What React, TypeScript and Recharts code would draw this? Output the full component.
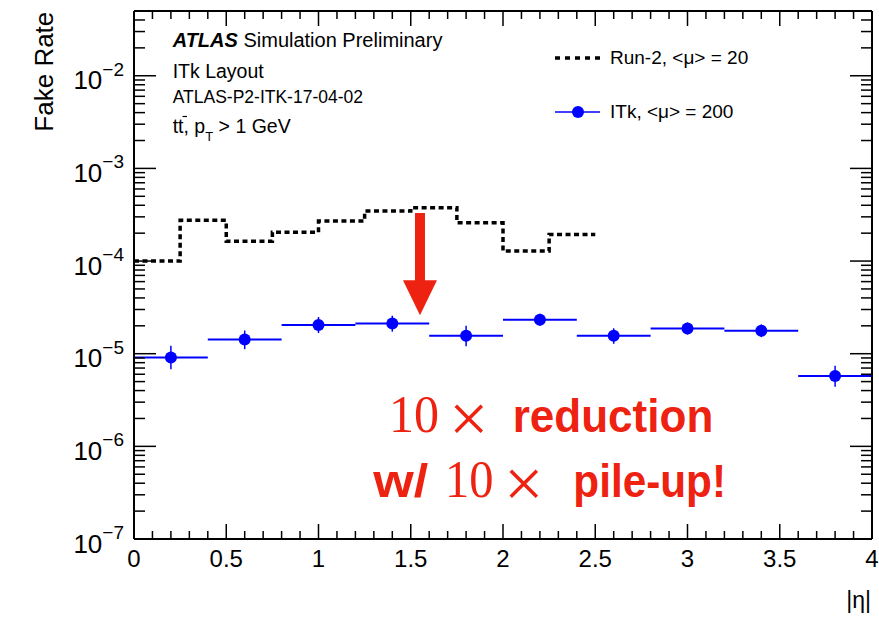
import React from 'react'
import { ComposedChart, Line, Scatter, ErrorBar, XAxis, YAxis, ReferenceLine, Legend } from 'recharts'

// Run-2, <mu> = 20 : step histogram, value per bin low edge (last entry closes the last bin)
const run2Edges = [0, 0.25, 0.5, 0.75, 1.0, 1.25, 1.5, 1.75, 2.0, 2.25, 2.5]
const run2Rate = [1.0e-4, 2.75e-4, 1.64e-4, 2.05e-4, 2.7e-4, 3.46e-4, 3.76e-4, 2.59e-4, 1.28e-4, 1.94e-4, 1.94e-4]

// ITk, <mu> = 200 : points with bin width 0.4
const itkEta = [0.2, 0.6, 1.0, 1.4, 1.8, 2.2, 2.6, 3.0, 3.4, 3.8]
const itkRate = [9.1e-6, 1.42e-5, 2.04e-5, 2.12e-5, 1.56e-5, 2.33e-5, 1.56e-5, 1.87e-5, 1.77e-5, 5.74e-6]
const itkUp = [1.22e-5, 1.78e-5, 2.49e-5, 2.57e-5, 2.0e-5, 2.7e-5, 1.88e-5, 2.17e-5, 2.07e-5, 7.4e-6]
const itkDown = [6.8e-6, 1.12e-5, 1.67e-5, 1.73e-5, 1.2e-5, 2.0e-5, 1.28e-5, 1.61e-5, 1.51e-5, 4.4e-6]
const itkHalfBin = 0.2

// axes
const xMajorLabels = ['0', '0.5', '1', '1.5', '2', '2.5', '3', '3.5', '4']
const xTicks = Array.from({ length: 41 }, (_, i) => i / 10)
const yExponents = [-7, -6, -5, -4, -3, -2]
const yMinorSteps = [2, 3, 4, 5, 6, 7, 8, 9]
const yTop = 0.05
const yTicks = yExponents.flatMap((e) => [Math.pow(10, e), ...yMinorSteps.map((m) => m * Math.pow(10, e))]).filter((v) => v <= yTop * 1.0001)

// arrow: eta position, from / to
const arrowEta = 1.55
const arrowFrom = 3.3e-4
const arrowTo = 2.6e-5

const run2Data = run2Edges.map((x, i) => ({ x, y: run2Rate[i] }))
const itkData = itkEta.map((x, i) => ({
  x,
  y: itkRate[i],
  ex: itkHalfBin,
  ey: [itkRate[i] - itkDown[i], itkUp[i] - itkRate[i]],
}))

const SANS = '"Liberation Sans", Arial, Helvetica, sans-serif'
const SERIF = '"Liberation Serif", "Times New Roman", serif'
const RED = '#ee2211'
const BLUE = '#0000ff'

const isDecade = (v: number) => Math.abs(Math.log10(v) - Math.round(Math.log10(v))) < 1e-6
const xMajorIndex = (v: number) => (Math.abs(v * 2 - Math.round(v * 2)) < 1e-6 ? Math.round(v * 2) : -1)

const BottomTick = (props: any) => {
  const { x, y, payload } = props
  const i = xMajorIndex(payload.value)
  return (
    <g>
      <line x1={x} y1={y} x2={x} y2={y - (i >= 0 ? 15 : 8)} stroke="#000" strokeWidth={1.5} />
      {i >= 0 && (
        <text x={x} y={y + 28} textAnchor="middle" fontSize={24} fontFamily={SANS} fill="#000">
          {xMajorLabels[i]}
        </text>
      )}
    </g>
  )
}

const TopTick = (props: any) => {
  const { x, y, payload } = props
  const major = xMajorIndex(payload.value) >= 0
  return <line x1={x} y1={y} x2={x} y2={y + (major ? 15 : 8)} stroke="#000" strokeWidth={1.5} />
}

const LeftTick = (props: any) => {
  const { x, y, payload } = props
  const major = isDecade(payload.value)
  const exp = Math.round(Math.log10(payload.value))
  return (
    <g>
      <line x1={x} y1={y} x2={x + (major ? 22 : 11)} y2={y} stroke="#000" strokeWidth={1.5} />
      {major && (
        <text x={x - 10} y={y + 13.5} textAnchor="end" fontSize={26} fontFamily={SANS} fill="#000">
          10
          <tspan dy={-13.5} fontSize={19}>
            {'\u2212' + Math.abs(exp)}
          </tspan>
        </text>
      )}
    </g>
  )
}

const RightTick = (props: any) => {
  const { x, y, payload } = props
  const major = isDecade(payload.value)
  return <line x1={x} y1={y} x2={x - (major ? 22 : 11)} y2={y} stroke="#000" strokeWidth={1.5} />
}

const Dot = (props: any) => <circle cx={props.cx} cy={props.cy} r={6} fill={BLUE} />

const Arrow = (props: any) => {
  const { x1, y1, y2 } = props
  const head = 35
  const hw = 17
  const sw = 5
  const yb = y2 - head
  const pts = [
    [x1 - sw, y1], [x1 + sw, y1], [x1 + sw, yb], [x1 + hw, yb],
    [x1, y2], [x1 - hw, yb], [x1 - sw, yb],
  ].map((p) => p.join(',')).join(' ')
  return <polygon points={pts} fill={RED} />
}

const LegendBox = () => (
  <svg width={230} height={95} style={{ display: 'block' }}>
    <line x1={15} y1={23} x2={60} y2={23} stroke="#000" strokeWidth={3.5} strokeDasharray="5 5" />
    <text x={70} y={29} fontSize={19} fontFamily={SANS} fill="#000">Run-2, &lt;μ&gt; = 20</text>
    <line x1={15} y1={77} x2={60} y2={77} stroke={BLUE} strokeWidth={1.5} />
    <circle cx={38} cy={77} r={6} fill={BLUE} />
    <text x={70} y={82.5} fontSize={19} fontFamily={SANS} fill="#000">ITk, &lt;μ&gt; = 200</text>
  </svg>
)

export default function App() {
  return (
    <div style={{ position: 'absolute', left: 0, top: 0, width: 879, height: 617, background: '#fff', fontFamily: SANS }}>
      <ComposedChart width={879} height={617} margin={{ top: 0, right: 0, bottom: 0, left: 0 }}>
        <XAxis
          dataKey="x" type="number" domain={[0, 4]} ticks={xTicks} interval={0} allowDataOverflow
          height={78} tickSize={0} tickMargin={0} tickLine={false}
          axisLine={{ stroke: '#000', strokeWidth: 2 }} tick={<BottomTick />}
        />
        <XAxis
          xAxisId="top" orientation="top" dataKey="x" type="number" domain={[0, 4]} ticks={xTicks} interval={0}
          allowDataOverflow height={11} tickSize={0} tickMargin={0} tickLine={false}
          axisLine={{ stroke: '#000', strokeWidth: 2 }} tick={<TopTick />}
        />
        <YAxis
          dataKey="y" type="number" scale="log" domain={[1e-7, yTop]} ticks={yTicks} interval={0} allowDataOverflow
          width={134} tickSize={0} tickMargin={0} tickLine={false}
          axisLine={{ stroke: '#000', strokeWidth: 2 }} tick={<LeftTick />}
        />
        <YAxis
          yAxisId="right" orientation="right" dataKey="y" type="number" scale="log" domain={[1e-7, yTop]}
          ticks={yTicks} interval={0} allowDataOverflow width={7} tickSize={0} tickMargin={0} tickLine={false}
          axisLine={{ stroke: '#000', strokeWidth: 2 }} tick={<RightTick />}
        />
        <Legend
          layout="horizontal" verticalAlign="middle" align="center"
          wrapperStyle={{ left: 540, top: 35, width: 230, height: 95 }}
          content={<LegendBox />}
        />
        <Scatter data={itkData} dataKey="y" fill={BLUE} shape={<Dot />} isAnimationActive={false}>
          <ErrorBar dataKey="ex" direction="x" width={0} stroke={BLUE} strokeWidth={2} isAnimationActive={false} />
          <ErrorBar dataKey="ey" direction="y" width={0} stroke={BLUE} strokeWidth={1.5} isAnimationActive={false} />
        </Scatter>
        <Line
          data={run2Data} dataKey="y" type="stepAfter" stroke="#000" strokeWidth={3.5}
          strokeDasharray="5 3.5" dot={false} activeDot={false} isAnimationActive={false}
        />
        <ReferenceLine
          segment={[{ x: arrowEta, y: arrowFrom }, { x: arrowEta, y: arrowTo }]}
          shape={<Arrow />}
        />
      </ComposedChart>

      <svg width={879} height={617} style={{ position: 'absolute', left: 0, top: 0, pointerEvents: 'none' }}>
        <text x={52.7} y={11.7} transform="rotate(-90 52.7 11.7)" textAnchor="end" fontSize={26} fontFamily={SANS} fill="#000">
          Fake Rate
        </text>
        <text x={871} y={608} textAnchor="end" fontSize={23} fontFamily={SANS} fill="#000">|η|</text>

        <g fontFamily={SANS} fill="#000">
          <text x={172.7} y={46.5} fontSize={20}>
            <tspan fontWeight="bold" fontStyle="italic">ATLAS</tspan> Simulation Preliminary
          </text>
          <text x={172.7} y={78.3} fontSize={19.5}>ITk Layout</text>
          <text x={172.7} y={103.3} fontSize={17.5}>ATLAS-P2-ITK-17-04-02</text>
          <text x={172.7} y={133.3} fontSize={19.5}>
            tt, p<tspan dy={8} fontSize={13}>T</tspan><tspan dy={-8}> &gt; 1 GeV</tspan>
          </text>
          <line x1={182.5} y1={116.5} x2={187} y2={116.5} stroke="#000" strokeWidth={1.2} />
        </g>

        <g fill={RED}>
          <text x={389} y={431.7} fontSize={52} fontFamily={SERIF} textLength={50} lengthAdjust="spacingAndGlyphs">10</text>
          <text x={449} y={442} fontSize={70} fontFamily={SERIF}>×</text>
          <text x={512.7} y={431.7} fontSize={47} fontWeight="bold" fontFamily={SANS} textLength={200.6} lengthAdjust="spacingAndGlyphs">reduction</text>
          <text x={373.3} y={496.7} fontSize={47} fontWeight="bold" fontFamily={SANS} textLength={55} lengthAdjust="spacingAndGlyphs">w/</text>
          <text x={445} y={496.7} fontSize={52} fontFamily={SERIF} textLength={48.5} lengthAdjust="spacingAndGlyphs">10</text>
          <text x={504} y={507} fontSize={70} fontFamily={SERIF}>×</text>
          <text x={573.3} y={496.7} fontSize={47} fontWeight="bold" fontFamily={SANS} textLength={152.7} lengthAdjust="spacingAndGlyphs">pile-up!</text>
        </g>
      </svg>
    </div>
  )
}
